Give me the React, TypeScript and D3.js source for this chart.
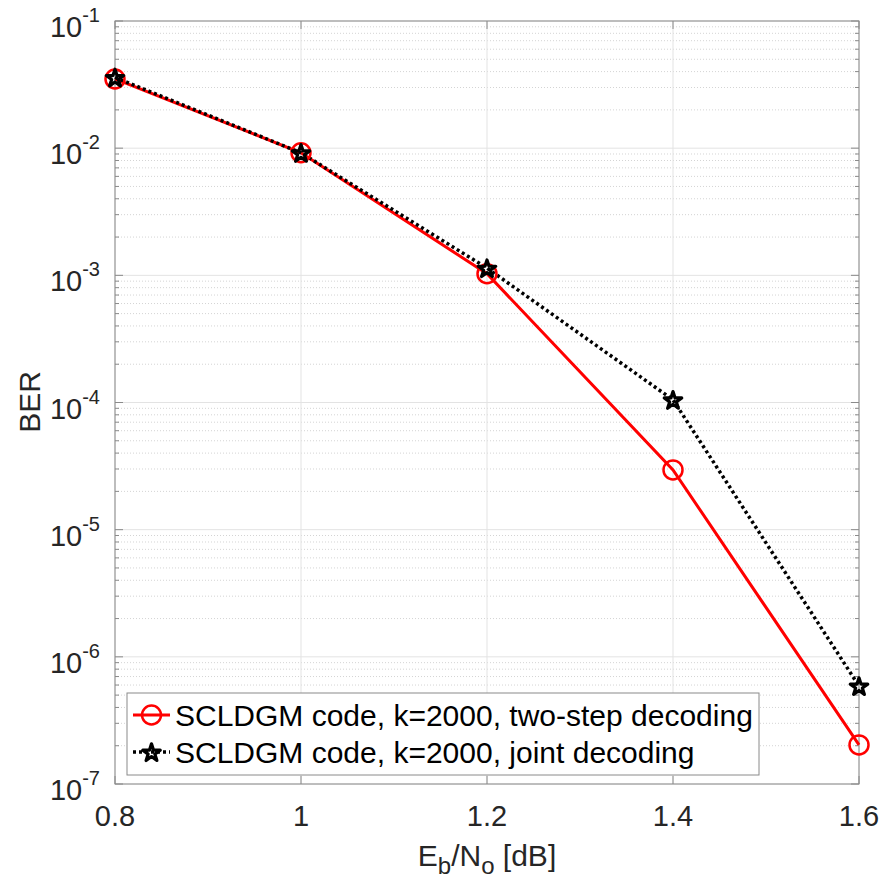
import React from "react";
import * as d3 from "d3";

const xValues = [0.8, 1.0, 1.2, 1.4, 1.6];
const berTwoStep = [0.035, 0.0092, 0.00103, 2.95e-5, 2.03e-7];
const berJoint = [0.036, 0.0092, 0.00114, 1.05e-4, 5.9e-7];
const xTicks = [0.8, 1.0, 1.2, 1.4, 1.6];
const yExponents = [-7, -6, -5, -4, -3, -2, -1];
const legendLabels = [
  "SCLDGM code, k=2000, two-step decoding",
  "SCLDGM code, k=2000, joint decoding",
];

const W = 883, H = 886;
const L = 115, R = 859, T = 21, B = 784;
const FONT = "'Liberation Sans', Arial, sans-serif";

export default function App() {
  const x = d3.scaleLinear().domain([0.8, 1.6]).range([L, R]);
  const y = d3.scaleLog().domain([1e-7, 1e-1]).range([B, T]);
  const line = d3.line<[number, number]>().x(d => x(d[0])).y(d => y(d[1]));
  const redPts = xValues.map((v, i) => [v, berTwoStep[i]] as [number, number]);
  const blkPts = xValues.map((v, i) => [v, berJoint[i]] as [number, number]);
  const star = d3.symbol().type(d3.symbolStar).size(95)()!;
  const minors: number[] = [];
  for (let e = -7; e < -1; e++) for (let m = 2; m <= 9; m++) minors.push(m * Math.pow(10, e));
  const axisCol = "#8a8a8a";
  const textCol = "#262626";

  return (
    <svg width={W} height={H} style={{ position: "absolute", left: 0, top: 0, background: "#fff" }} fontFamily={FONT}>
      <rect x={0} y={0} width={W} height={H} fill="#fff" />
      {minors.map((m, i) => (
        <line key={"mg" + i} x1={L} x2={R} y1={y(m)} y2={y(m)} stroke="#d4d4d4" strokeWidth={1} strokeDasharray="1,2" />
      ))}
      {yExponents.map(e => (
        <line key={"yg" + e} x1={L} x2={R} y1={y(Math.pow(10, e))} y2={y(Math.pow(10, e))} stroke="#e3e3e3" strokeWidth={1} />
      ))}
      {xTicks.map(t => (
        <line key={"xg" + t} x1={x(t)} x2={x(t)} y1={T} y2={B} stroke="#e3e3e3" strokeWidth={1} />
      ))}
      {minors.map((m, i) => (
        <g key={"mt" + i}>
          <line x1={L} x2={L + 4} y1={y(m)} y2={y(m)} stroke={axisCol} />
          <line x1={R} x2={R - 4} y1={y(m)} y2={y(m)} stroke={axisCol} />
        </g>
      ))}
      {yExponents.map(e => (
        <g key={"yt" + e}>
          <line x1={L} x2={L + 8} y1={y(Math.pow(10, e))} y2={y(Math.pow(10, e))} stroke={axisCol} />
          <line x1={R} x2={R - 8} y1={y(Math.pow(10, e))} y2={y(Math.pow(10, e))} stroke={axisCol} />
          <text x={100} y={y(Math.pow(10, e)) + 16} textAnchor="end" fill={textCol} fontSize={29}>
            10<tspan dy={-15} fontSize={20}>{e}</tspan>
          </text>
        </g>
      ))}
      {xTicks.map(t => (
        <g key={"xt" + t}>
          <line x1={x(t)} x2={x(t)} y1={B} y2={B - 8} stroke={axisCol} />
          <line x1={x(t)} x2={x(t)} y1={T} y2={T + 8} stroke={axisCol} />
          <text x={x(t)} y={826} textAnchor="middle" fill={textCol} fontSize={29}>
            {d3.format("")(t)}
          </text>
        </g>
      ))}
      <rect x={L} y={T} width={R - L} height={B - T} fill="none" stroke={axisCol} strokeWidth={1} />
      <path d={line(redPts)!} fill="none" stroke="#ff0000" strokeWidth={3} />
      <path d={line(blkPts)!} fill="none" stroke="#000" strokeWidth={3.5} strokeDasharray="3,3" />
      {redPts.map((p, i) => (
        <circle key={"rc" + i} cx={x(p[0])} cy={y(p[1])} r={9.5} fill="none" stroke="#ff0000" strokeWidth={2.5} />
      ))}
      {blkPts.map((p, i) => (
        <path key={"bs" + i} d={star} transform={`translate(${x(p[0])},${y(p[1]) + 1})`} fill="none" stroke="#000" strokeWidth={3.2} strokeLinejoin="round" />
      ))}
      <rect x={127} y={693} width={632} height={82} fill="#fff" stroke={axisCol} strokeWidth={1} />
      <line x1={133} x2={170} y1={715} y2={715} stroke="#ff0000" strokeWidth={3} />
      <circle cx={151.5} cy={715} r={9.5} fill="none" stroke="#ff0000" strokeWidth={2.5} />
      <line x1={133} x2={170} y1={752} y2={752} stroke="#000" strokeWidth={3.5} strokeDasharray="3,3" />
      <path d={star} transform="translate(151.5,753)" fill="none" stroke="#000" strokeWidth={3.2} strokeLinejoin="round" />
      <text x={175} y={726} fontSize={30} fill="#000">{legendLabels[0]}</text>
      <text x={175} y={763} fontSize={30} fill="#000">{legendLabels[1]}</text>
      <text transform="translate(40,402) rotate(-90)" textAnchor="middle" fontSize={30} fill={textCol}>BER</text>
      <text x={487} y={866} textAnchor="middle" fontSize={30} fill={textCol}>
        E<tspan dy={8} fontSize={24}>b</tspan><tspan dy={-8}>/N</tspan><tspan dy={8} fontSize={24}>o</tspan><tspan dy={-8}> [dB]</tspan>
      </text>
    </svg>
  );
}
